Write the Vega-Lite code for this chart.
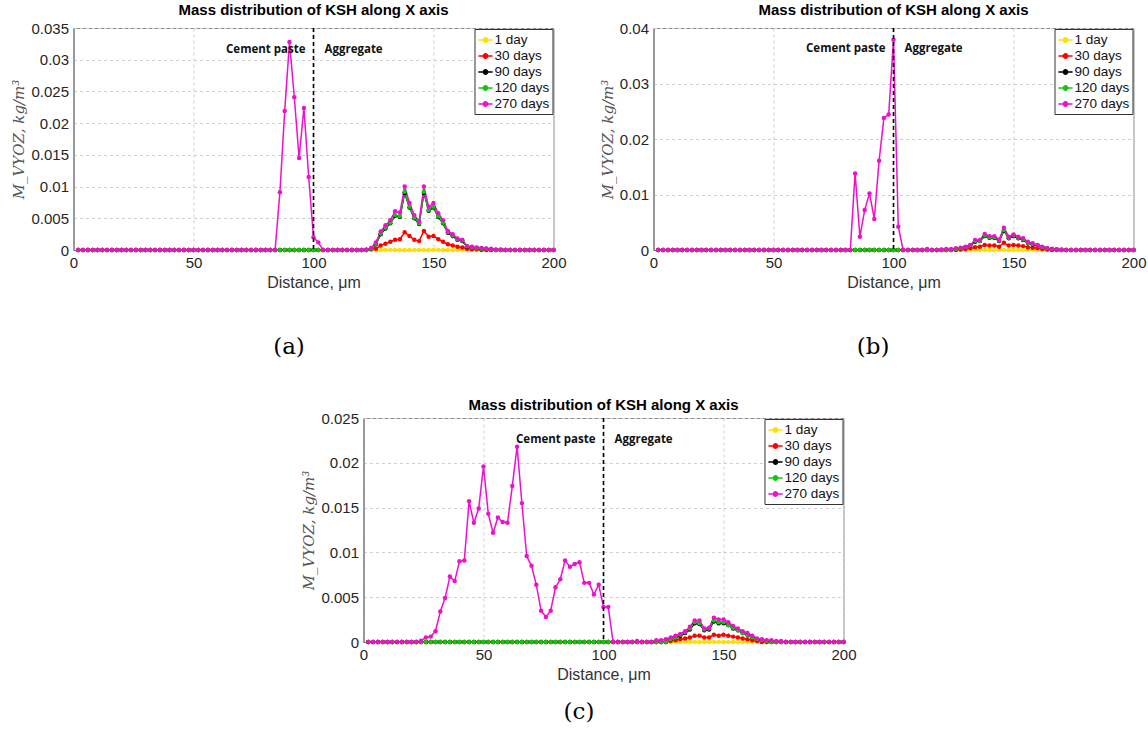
{
  "$schema": "https://vega.github.io/schema/vega-lite/v6.json",
  "padding": {"left": 11, "top": 2, "right": 0, "bottom": 5},
  "background": "white",
  "config": {
    "view": {"stroke": "#8a8a8a", "strokeWidth": 1},
    "axis": {"grid": true, "gridDash": [3, 3], "gridColor": "#cfcfcf", "domainColor": "#6a6a6a", "ticks": false, "labelOverlap": false, "labelFont": "Liberation Sans", "labelFontSize": 15, "labelColor": "#262626", "labelPadding": 5, "titleFont": "Liberation Sans", "titleFontSize": 16, "titleFontWeight": "normal", "titleColor": "#333333"},
    "axisX": {"labelFlush": false},
    "axisY": {"titleFont": "DejaVu Serif", "titleFontStyle": "italic", "titleColor": "#555555", "titleFontSize": 15},
    "title": {"font": "Liberation Sans", "fontSize": 15, "fontWeight": "bold", "color": "#000000"},
    "legend": {"orient": "top-right", "offset": 1, "title": null, "strokeColor": "#333333", "fillColor": "white", "padding": 3, "labelFont": "Liberation Sans", "labelFontSize": 13.5, "labelColor": "#111111", "symbolType": "M-1,0H1M-0.3,0A0.3,0.3,0,1,1,0.3,0A0.3,0.3,0,1,1,-0.3,0Z", "symbolSize": 200, "symbolStrokeWidth": 1.6, "rowPadding": 1, "labelOffset": 1}
  },
  "resolve": {"scale": {"color": "independent"}, "legend": {"color": "independent"}},
  "center": true,
  "spacing": 38,
  "vconcat": [
    {
      "resolve": {"scale": {"color": "independent", "y": "independent"}, "legend": {"color": "independent"}, "axis": {"y": "independent"}},
      "spacing": 32,
      "hconcat": [
        {
          "title": {"text": "(a)", "orient": "bottom", "anchor": "middle", "frame": "bounds", "font": "DejaVu Serif", "fontSize": 23, "fontWeight": "normal", "offset": 45},
          "resolve": {"scale": {"color": "independent"}, "legend": {"color": "independent"}},
          "vconcat": [
            {
              "width": 480, "height": 222,
              "title": {"text": "Mass distribution of KSH along X axis", "frame": "group", "anchor": "middle", "offset": 3},
              "data": {"values": "x,1 day,30 days,90 days,120 days,270 days\n2,0,0,0,0,0\n4,0,0,0,0,0\n6,0,0,0,0,0\n8,0,0,0,0,0\n10,0,0,0,0,0\n12,0,0,0,0,0\n14,0,0,0,0,0\n16,0,0,0,0,0\n18,0,0,0,0,0\n20,0,0,0,0,0\n22,0,0,0,0,0\n24,0,0,0,0,0\n26,0,0,0,0,0\n28,0,0,0,0,0\n30,0,0,0,0,0\n32,0,0,0,0,0\n34,0,0,0,0,0\n36,0,0,0,0,0\n38,0,0,0,0,0\n40,0,0,0,0,0\n42,0,0,0,0,0\n44,0,0,0,0,0\n46,0,0,0,0,0\n48,0,0,0,0,0\n50,0,0,0,0,0\n52,0,0,0,0,0\n54,0,0,0,0,0\n56,0,0,0,0,0\n58,0,0,0,0,0\n60,0,0,0,0,0\n62,0,0,0,0,0\n64,0,0,0,0,0\n66,0,0,0,0,0\n68,0,0,0,0,0\n70,0,0,0,0,0\n72,0,0,0,0,0\n74,0,0,0,0,0\n76,0,0,0,0,0\n78,0,0,0,0,0\n80,0,0,0,0,0\n82,0,0,0,0,0\n84,0,0,0,0,0\n86,0,0,0,0,0.0091\n88,0,0,0,0,0.0219\n90,0,0,0,0,0.0328\n92,0,0,0,0,0.0241\n94,0,0,0,0,0.0145\n96,0,0,0,0,0.0224\n98,0,0,0,0,0.0115\n100,0,0,0,0,0.002\n102,0,0,0,0,0.0012\n104,0,0,0,0,0\n106,0,0,0,0,0\n108,0,0,0,0,0\n110,0,0,0,0,0\n112,0,0,0,0,0\n114,0,0,0,0,0\n116,0,0,0,0,0\n118,0,0,0,0,0\n120,0,0,0,0,0\n122,0,0,0,0,0.0001\n124,0,0.0001,0.0002,0.0002,0.0003\n126,0,0.0002,0.0009,0.001,0.0012\n128,0,0.0007,0.0025,0.0026,0.0029\n130,0,0.001,0.0034,0.0035,0.0039\n132,0,0.0013,0.0042,0.0043,0.0047\n134,0,0.0016,0.0054,0.0055,0.0061\n136,0,0.0017,0.0052,0.0053,0.0059\n138,0,0.0028,0.009,0.0092,0.01\n140,0,0.0022,0.0067,0.0068,0.0074\n142,0,0.0016,0.005,0.0051,0.0055\n144,0,0.0014,0.0041,0.0042,0.0045\n146,0,0.003,0.009,0.0092,0.01\n148,0,0.0021,0.0062,0.0063,0.0068\n150,0,0.0022,0.0067,0.0068,0.0074\n152,0,0.0017,0.0052,0.0053,0.0058\n154,0,0.0013,0.0042,0.0043,0.0047\n156,0,0.0009,0.0027,0.0028,0.003\n158,0,0.0007,0.0022,0.0023,0.0025\n160,0,0.0005,0.0016,0.0017,0.0018\n162,0,0.0004,0.0014,0.0015,0.0016\n164,0,0.0002,0.0005,0.0006,0.0006\n166,0,0.0001,0.0004,0.0004,0.0005\n168,0,0.0001,0.0003,0.0003,0.0004\n170,0,0,0.0002,0.0002,0.0003\n172,0,0,0.0002,0.0002,0.0002\n174,0,0,0.0001,0.0001,0.0002\n176,0,0,0,0,0.0001\n178,0,0,0,0,0.0001\n180,0,0,0,0,0\n182,0,0,0,0,0\n184,0,0,0,0,0\n186,0,0,0,0,0\n188,0,0,0,0,0\n190,0,0,0,0,0\n192,0,0,0,0,0\n194,0,0,0,0,0\n196,0,0,0,0,0\n198,0,0,0,0,0\n200,0,0,0,0,0", "format": {"type": "csv", "parse": {"x": "number", "1 day": "number", "30 days": "number", "90 days": "number", "120 days": "number", "270 days": "number"}}},
              "layer": [
                {
                  "transform": [{"fold": ["1 day", "30 days", "90 days", "120 days", "270 days"], "as": ["series", "value"]}],
                  "mark": {"type": "line", "strokeWidth": 1.5, "point": {"filled": true, "size": 20}},
                  "encoding": {
                    "x": {"field": "x", "type": "quantitative", "scale": {"domain": [0, 200], "nice": false}, "axis": {"values": [0, 50, 100, 150, 200], "title": "Distance, μm"}},
                    "y": {"field": "value", "type": "quantitative", "scale": {"domain": [0, 0.035], "nice": false}, "axis": {"values": [0, 0.005, 0.01, 0.015, 0.02, 0.025, 0.03, 0.035], "format": "~g", "title": "M_VYOZ, kg/m³"}},
                    "color": {"field": "series", "type": "nominal", "scale": {"domain": ["1 day", "30 days", "90 days", "120 days", "270 days"], "range": ["#FFE000", "#FF0000", "#000000", "#10C810", "#EE10CC"]}}
                  }
                },
                {"data": {"values": [{"x": 100}]}, "mark": {"type": "rule", "color": "#000000", "strokeDash": [4, 3], "strokeWidth": 1.6}, "encoding": {"x": {"field": "x", "type": "quantitative", "axis": {"values": [0, 50, 100, 150, 200], "title": "Distance, μm"}}}},
                {"data": {"values": [{"x": 100}]}, "mark": {"type": "text", "text": "Cement paste", "align": "right", "baseline": "middle", "dx": -8, "font": "Open Sans", "fontWeight": "bold", "fontSize": 11.5, "color": "#111111"}, "encoding": {"x": {"field": "x", "type": "quantitative", "axis": {"values": [0, 50, 100, 150, 200], "title": "Distance, μm"}}, "y": {"datum": 0.0316, "type": "quantitative", "axis": {"values": [0, 0.005, 0.01, 0.015, 0.02, 0.025, 0.03, 0.035], "format": "~g", "title": "M_VYOZ, kg/m³"}}}},
                {"data": {"values": [{"x": 100}]}, "mark": {"type": "text", "text": "Aggregate", "align": "left", "baseline": "middle", "dx": 11, "font": "Open Sans", "fontWeight": "bold", "fontSize": 11.5, "color": "#111111"}, "encoding": {"x": {"field": "x", "type": "quantitative", "axis": {"values": [0, 50, 100, 150, 200], "title": "Distance, μm"}}, "y": {"datum": 0.0316, "type": "quantitative", "axis": {"values": [0, 0.005, 0.01, 0.015, 0.02, 0.025, 0.03, 0.035], "format": "~g", "title": "M_VYOZ, kg/m³"}}}}
              ]
            }
          ]
        },
        {
          "title": {"text": "(b)", "orient": "bottom", "anchor": "middle", "frame": "bounds", "font": "DejaVu Serif", "fontSize": 23, "fontWeight": "normal", "offset": 45},
          "resolve": {"scale": {"color": "independent"}, "legend": {"color": "independent"}},
          "vconcat": [
            {
              "width": 480, "height": 222,
              "title": {"text": "Mass distribution of KSH along X axis", "frame": "group", "anchor": "middle", "offset": 3},
              "data": {"values": "x,1 day,30 days,90 days,120 days,270 days\n2,0,0,0,0,0\n4,0,0,0,0,0\n6,0,0,0,0,0\n8,0,0,0,0,0\n10,0,0,0,0,0\n12,0,0,0,0,0\n14,0,0,0,0,0\n16,0,0,0,0,0\n18,0,0,0,0,0\n20,0,0,0,0,0\n22,0,0,0,0,0\n24,0,0,0,0,0\n26,0,0,0,0,0\n28,0,0,0,0,0\n30,0,0,0,0,0\n32,0,0,0,0,0\n34,0,0,0,0,0\n36,0,0,0,0,0\n38,0,0,0,0,0\n40,0,0,0,0,0\n42,0,0,0,0,0\n44,0,0,0,0,0\n46,0,0,0,0,0\n48,0,0,0,0,0\n50,0,0,0,0,0\n52,0,0,0,0,0\n54,0,0,0,0,0\n56,0,0,0,0,0\n58,0,0,0,0,0\n60,0,0,0,0,0\n62,0,0,0,0,0\n64,0,0,0,0,0\n66,0,0,0,0,0\n68,0,0,0,0,0\n70,0,0,0,0,0\n72,0,0,0,0,0\n74,0,0,0,0,0\n76,0,0,0,0,0\n78,0,0,0,0,0\n80,0,0,0,0,0\n82,0,0,0,0,0\n84,0,0,0,0,0.0138\n86,0,0,0,0,0.0024\n88,0,0,0,0,0.0072\n90,0,0,0,0,0.0102\n92,0,0,0,0,0.0056\n94,0,0,0,0,0.0161\n96,0,0,0,0,0.0238\n98,0,0,0,0,0.0244\n100,0,0,0,0,0.0379\n102,0,0,0,0,0.0042\n104,0,0,0,0,0\n106,0,0,0,0,0\n108,0,0,0,0,0\n110,0,0,0,0,0\n112,0,0,0,0,0\n114,0,0,0,0,0.0002\n116,0,0,0,0,0\n118,0,0,0,0,0\n120,0,0,0,0,0.0001\n122,0,0,0,0,0.0002\n124,0,0,0,0,0.0002\n126,0,0,0.0002,0.0002,0.0003\n128,0,0.0001,0.0003,0.0003,0.0004\n130,0,0.0002,0.0005,0.0005,0.0006\n132,0,0.0003,0.0008,0.0008,0.0009\n134,0,0.0005,0.0015,0.0016,0.0018\n136,0,0.0006,0.0016,0.0016,0.0018\n138,0,0.0009,0.0025,0.0026,0.0029\n140,0,0.0008,0.0022,0.0023,0.0025\n142,0,0.0008,0.0022,0.0023,0.0025\n144,0,0.0006,0.0016,0.0017,0.0019\n146,0,0.0013,0.0035,0.0036,0.004\n148,0,0.0008,0.0021,0.0022,0.0024\n150,0,0.0009,0.0025,0.0026,0.0028\n152,0,0.0008,0.0021,0.0022,0.0024\n154,0,0.0007,0.0018,0.0019,0.0021\n156,0,0.0005,0.0013,0.0013,0.0015\n158,0,0.0004,0.001,0.0011,0.0012\n160,0,0.0003,0.0008,0.0008,0.0009\n162,0,0.0002,0.0005,0.0005,0.0006\n164,0,0.0001,0.0003,0.0003,0.0003\n166,0,0,0.0002,0.0002,0.0002\n168,0,0,0.0001,0.0001,0.0001\n170,0,0,0,0,0.0001\n172,0,0,0,0,0\n174,0,0,0,0,0\n176,0,0,0,0,0\n178,0,0,0,0,0\n180,0,0,0,0,0\n182,0,0,0,0,0\n184,0,0,0,0,0\n186,0,0,0,0,0\n188,0,0,0,0,0\n190,0,0,0,0,0\n192,0,0,0,0,0\n194,0,0,0,0,0\n196,0,0,0,0,0\n198,0,0,0,0,0\n200,0,0,0,0,0", "format": {"type": "csv", "parse": {"x": "number", "1 day": "number", "30 days": "number", "90 days": "number", "120 days": "number", "270 days": "number"}}},
              "layer": [
                {
                  "transform": [{"fold": ["1 day", "30 days", "90 days", "120 days", "270 days"], "as": ["series", "value"]}],
                  "mark": {"type": "line", "strokeWidth": 1.5, "point": {"filled": true, "size": 20}},
                  "encoding": {
                    "x": {"field": "x", "type": "quantitative", "scale": {"domain": [0, 200], "nice": false}, "axis": {"values": [0, 50, 100, 150, 200], "title": "Distance, μm"}},
                    "y": {"field": "value", "type": "quantitative", "scale": {"domain": [0, 0.04], "nice": false}, "axis": {"values": [0, 0.01, 0.02, 0.03, 0.04], "format": "~g", "title": "M_VYOZ, kg/m³"}},
                    "color": {"field": "series", "type": "nominal", "scale": {"domain": ["1 day", "30 days", "90 days", "120 days", "270 days"], "range": ["#FFE000", "#FF0000", "#000000", "#10C810", "#EE10CC"]}}
                  }
                },
                {"data": {"values": [{"x": 100}]}, "mark": {"type": "rule", "color": "#000000", "strokeDash": [4, 3], "strokeWidth": 1.6}, "encoding": {"x": {"field": "x", "type": "quantitative", "axis": {"values": [0, 50, 100, 150, 200], "title": "Distance, μm"}}}},
                {"data": {"values": [{"x": 100}]}, "mark": {"type": "text", "text": "Cement paste", "align": "right", "baseline": "middle", "dx": -8, "font": "Open Sans", "fontWeight": "bold", "fontSize": 11.5, "color": "#111111"}, "encoding": {"x": {"field": "x", "type": "quantitative", "axis": {"values": [0, 50, 100, 150, 200], "title": "Distance, μm"}}, "y": {"datum": 0.0362, "type": "quantitative", "axis": {"values": [0, 0.01, 0.02, 0.03, 0.04], "format": "~g", "title": "M_VYOZ, kg/m³"}}}},
                {"data": {"values": [{"x": 100}]}, "mark": {"type": "text", "text": "Aggregate", "align": "left", "baseline": "middle", "dx": 11, "font": "Open Sans", "fontWeight": "bold", "fontSize": 11.5, "color": "#111111"}, "encoding": {"x": {"field": "x", "type": "quantitative", "axis": {"values": [0, 50, 100, 150, 200], "title": "Distance, μm"}}, "y": {"datum": 0.0362, "type": "quantitative", "axis": {"values": [0, 0.01, 0.02, 0.03, 0.04], "format": "~g", "title": "M_VYOZ, kg/m³"}}}}
              ]
            }
          ]
        }
      ]
    },
    {
      "title": {"text": "(c)", "orient": "bottom", "anchor": "middle", "frame": "bounds", "font": "DejaVu Serif", "fontSize": 23, "fontWeight": "normal", "offset": 18},
      "resolve": {"scale": {"color": "independent"}, "legend": {"color": "independent"}},
      "vconcat": [
        {
          "width": 480, "height": 224,
          "title": {"text": "Mass distribution of KSH along X axis", "frame": "group", "anchor": "middle", "offset": -2},
          "data": {"values": "x,1 day,30 days,90 days,120 days,270 days\n2,0,0,0,0,0\n4,0,0,0,0,0\n6,0,0,0,0,0\n8,0,0,0,0,0\n10,0,0,0,0,0\n12,0,0,0,0,0\n14,0,0,0,0,0\n16,0,0,0,0,0\n18,0,0,0,0,0\n20,0,0,0,0,0\n22,0,0,0,0,0\n24,0,0,0,0,0.00015\n26,0,0,0,0,0.0005\n28,0,0,0,0,0.0006\n30,0,0,0,0,0.0012\n32,0,0,0,0,0.0034\n34,0,0,0,0,0.0049\n36,0,0,0,0,0.0073\n38,0,0,0,0,0.0068\n40,0,0,0,0,0.009\n42,0,0,0,0,0.0091\n44,0,0,0,0,0.0157\n46,0,0,0,0,0.0133\n48,0,0,0,0,0.0149\n50,0,0,0,0,0.0196\n52,0,0,0,0,0.0143\n54,0,0,0,0,0.0122\n56,0,0,0,0,0.0139\n58,0,0,0,0,0.0134\n60,0,0,0,0,0.0133\n62,0,0,0,0,0.0174\n64,0,0,0,0,0.0218\n66,0,0,0,0,0.0155\n68,0,0,0,0,0.0096\n70,0,0,0,0,0.0085\n72,0,0,0,0,0.0064\n74,0,0,0,0,0.0035\n76,0,0,0,0,0.0028\n78,0,0,0,0,0.0035\n80,0,0,0,0,0.0061\n82,0,0,0,0,0.007\n84,0,0,0,0,0.0091\n86,0,0,0,0,0.0084\n88,0,0,0,0,0.0087\n90,0,0,0,0,0.0089\n92,0,0,0,0,0.0066\n94,0,0,0,0,0.0066\n96,0,0,0,0,0.0053\n98,0,0,0,0,0.0064\n100,0,0,0,0,0.0039\n102,0,0,0,0,0.0039\n104,0,0,0,0,0\n106,0,0,0,0,0\n108,0,0,0,0,0\n110,0,0,0,0,0\n112,0,0,0,0,0\n114,0,0,0,0,0.0001\n116,0,0,0,0,0\n118,0,0,0,0,0\n120,0,0,0,0,0\n122,0,0,0,0,0.0002\n124,0,0,0,0,0.0002\n126,0,0,0,0,0.0003\n128,0,0.0001,0.0003,0.0003,0.0005\n130,0,0.0002,0.0005,0.0005,0.0007\n132,0,0.0003,0.0007,0.0008,0.0009\n134,0,0.0004,0.001,0.0011,0.0012\n136,0,0.0005,0.0014,0.0015,0.0017\n138,0,0.0007,0.0021,0.0022,0.0024\n140,0,0.0007,0.002,0.0021,0.0024\n142,0,0.0005,0.0013,0.0014,0.0015\n144,0,0.0005,0.0014,0.0015,0.0016\n146,0,0.0008,0.0023,0.0024,0.0027\n148,0,0.0007,0.0021,0.0022,0.0025\n150,0,0.0008,0.0021,0.0022,0.0025\n152,0,0.0007,0.0019,0.0019,0.0022\n154,0,0.0006,0.0015,0.0016,0.0018\n156,0,0.0005,0.0013,0.0013,0.0015\n158,0,0.0004,0.001,0.001,0.0012\n160,0,0.0003,0.0008,0.0008,0.001\n162,0,0.0002,0.0005,0.0005,0.0007\n164,0,0.0001,0.0003,0.0003,0.0004\n166,0,0,0.0002,0.0002,0.0003\n168,0,0,0.0001,0.0001,0.0002\n170,0,0,0,0,0.0002\n172,0,0,0,0,0.0001\n174,0,0,0,0,0.0001\n176,0,0,0,0,0\n178,0,0,0,0,0\n180,0,0,0,0,0\n182,0,0,0,0,0\n184,0,0,0,0,0\n186,0,0,0,0,0\n188,0,0,0,0,0\n190,0,0,0,0,0\n192,0,0,0,0,0\n194,0,0,0,0,0\n196,0,0,0,0,0\n198,0,0,0,0,0\n200,0,0,0,0,0", "format": {"type": "csv", "parse": {"x": "number", "1 day": "number", "30 days": "number", "90 days": "number", "120 days": "number", "270 days": "number"}}},
          "layer": [
            {
              "transform": [{"fold": ["1 day", "30 days", "90 days", "120 days", "270 days"], "as": ["series", "value"]}],
              "mark": {"type": "line", "strokeWidth": 1.5, "point": {"filled": true, "size": 20}},
              "encoding": {
                "x": {"field": "x", "type": "quantitative", "scale": {"domain": [0, 200], "nice": false}, "axis": {"values": [0, 50, 100, 150, 200], "title": "Distance, μm"}},
                "y": {"field": "value", "type": "quantitative", "scale": {"domain": [0, 0.025], "nice": false}, "axis": {"values": [0, 0.005, 0.01, 0.015, 0.02, 0.025], "format": "~g", "title": "M_VYOZ, kg/m³"}},
                "color": {"field": "series", "type": "nominal", "scale": {"domain": ["1 day", "30 days", "90 days", "120 days", "270 days"], "range": ["#FFE000", "#FF0000", "#000000", "#10C810", "#EE10CC"]}}
              }
            },
            {"data": {"values": [{"x": 100}]}, "mark": {"type": "rule", "color": "#000000", "strokeDash": [4, 3], "strokeWidth": 1.6}, "encoding": {"x": {"field": "x", "type": "quantitative", "axis": {"values": [0, 50, 100, 150, 200], "title": "Distance, μm"}}}},
            {"data": {"values": [{"x": 100}]}, "mark": {"type": "text", "text": "Cement paste", "align": "right", "baseline": "middle", "dx": -8, "font": "Open Sans", "fontWeight": "bold", "fontSize": 11.5, "color": "#111111"}, "encoding": {"x": {"field": "x", "type": "quantitative", "axis": {"values": [0, 50, 100, 150, 200], "title": "Distance, μm"}}, "y": {"datum": 0.0225, "type": "quantitative", "axis": {"values": [0, 0.005, 0.01, 0.015, 0.02, 0.025], "format": "~g", "title": "M_VYOZ, kg/m³"}}}},
            {"data": {"values": [{"x": 100}]}, "mark": {"type": "text", "text": "Aggregate", "align": "left", "baseline": "middle", "dx": 11, "font": "Open Sans", "fontWeight": "bold", "fontSize": 11.5, "color": "#111111"}, "encoding": {"x": {"field": "x", "type": "quantitative", "axis": {"values": [0, 50, 100, 150, 200], "title": "Distance, μm"}}, "y": {"datum": 0.0225, "type": "quantitative", "axis": {"values": [0, 0.005, 0.01, 0.015, 0.02, 0.025], "format": "~g", "title": "M_VYOZ, kg/m³"}}}}
          ]
        }
      ]
    }
  ]
}
